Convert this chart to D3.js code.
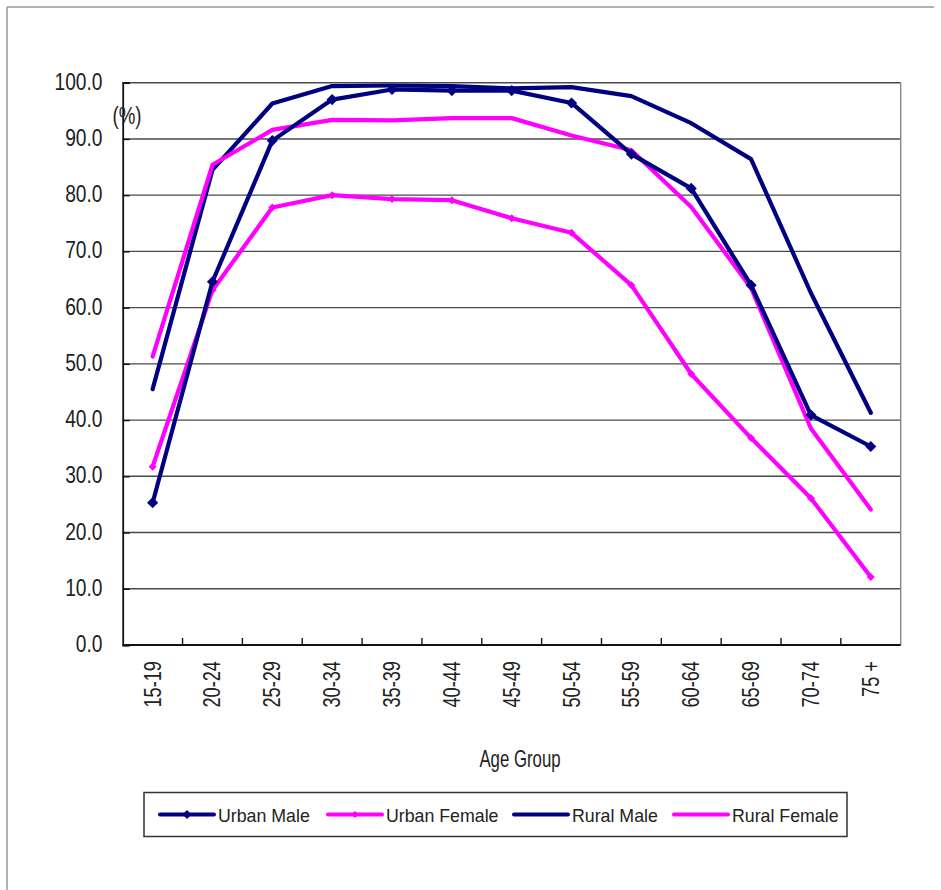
<!DOCTYPE html>
<html><head><meta charset="utf-8">
<script src="https://cdn.jsdelivr.net/npm/d3@7"></script>
<style>html,body{margin:0;padding:0;background:#fff;}svg{display:block;}</style>
</head><body>
<script>
const categories = ["15-19","20-24","25-29","30-34","35-39","40-44","45-49","50-54","55-59","60-64","65-69","70-74","75 +"];
const urbanMale   = [25.3, 64.6, 89.7, 97.0, 98.8, 98.6, 98.6, 96.4, 87.3, 81.2, 64.0, 40.9, 35.3];
const urbanFemale = [31.7, 63.1, 77.8, 80.0, 79.3, 79.1, 75.9, 73.3, 64.0, 48.2, 36.8, 26.1, 12.1];
const ruralMale   = [45.5, 84.5, 96.3, 99.4, 99.5, 99.4, 99.0, 99.2, 97.6, 92.8, 86.4, 62.6, 41.3];
const ruralFemale = [51.3, 85.4, 91.6, 93.4, 93.3, 93.7, 93.7, 90.6, 88.0, 77.9, 63.5, 38.5, 24.1];
const yTicks = [0,10,20,30,40,50,60,70,80,90,100];
const seriesNames = ["Urban Male","Urban Female","Rural Male","Rural Female"];

const W = 941, H = 890;
const svg = d3.select("body").append("svg").attr("width", W).attr("height", H);
const FONT = "'Liberation Sans', Arial, sans-serif";

// outer frame (top and left)
svg.append("line").attr("x1",7).attr("x2",934).attr("y1",7).attr("y2",7).attr("stroke","#999").attr("stroke-width",1.5);
svg.append("line").attr("x1",7).attr("x2",7).attr("y1",7).attr("y2",H).attr("stroke","#999").attr("stroke-width",1.5);

const x = d3.scaleBand().domain(categories).range([122.7, 900.7]).padding(0);
const y = d3.scaleLinear().domain([0,100]).range([645, 82.7]);
const cx = c => x(c) + x.bandwidth()/2;

// gridlines
svg.append("g").selectAll("line").data(yTicks.filter(t=>t>0)).join("line")
  .attr("x1", x.range()[0]).attr("x2", x.range()[1])
  .attr("y1", d=>y(d)).attr("y2", d=>y(d))
  .attr("stroke", "#4a4a4a").attr("stroke-width", 1.4);
// right border
svg.append("line").attr("x1", x.range()[1]).attr("x2", x.range()[1]).attr("y1", y(100)).attr("y2", y(0))
  .attr("stroke","#888").attr("stroke-width",1.4);

// left axis
const yAxis = svg.append("g").attr("transform",`translate(${x.range()[0]},0)`)
  .call(d3.axisLeft(y).tickValues(yTicks).tickSize(-7).tickFormat(""));
yAxis.select(".domain").attr("stroke","#111").attr("stroke-width",1.8);
yAxis.selectAll(".tick line").attr("stroke","#111").attr("stroke-width",1.4);

// bottom axis
svg.append("line").attr("x1", x.range()[0]).attr("x2", x.range()[1]).attr("y1", y(0)).attr("y2", y(0))
  .attr("stroke","#111").attr("stroke-width",1.8);
svg.append("g").selectAll("line").data(categories.slice(1)).join("line")
  .attr("x1", d=>x(d)).attr("x2", d=>x(d)).attr("y1", y(0)).attr("y2", y(0)-7)
  .attr("stroke","#111").attr("stroke-width",1.4);

// y tick labels
svg.append("g").selectAll("text").data(yTicks).join("text")
  .attr("transform", d=>`translate(102.5,${y(d)+7}) scale(0.8,1)`)
  .attr("text-anchor","end").attr("font-family",FONT).attr("font-size",24).attr("fill","#222")
  .text(d=>d.toFixed(1));

// (%)
svg.append("text").attr("transform","translate(127,124) scale(0.78,1)")
  .attr("text-anchor","middle").attr("font-family",FONT).attr("font-size",24).attr("fill","#222").text("(%)");

// x tick labels rotated
svg.append("g").selectAll("text").data(categories).join("text")
  .attr("transform", d=>`translate(${cx(d)+8},661) rotate(-90) scale(0.76,1)`)
  .attr("text-anchor","end").attr("font-family",FONT).attr("font-size",24).attr("fill","#222")
  .text(d=>d);

// axis title
svg.append("text").attr("transform","translate(520,767) scale(0.7,1)")
  .attr("text-anchor","middle").attr("font-family",FONT).attr("font-size",24).attr("fill","#222").text("Age Group");

// series
const series = [
  {name:"Rural Male", values: ruralMale, color:"#000080", marker:0},
  {name:"Rural Female", values: ruralFemale, color:"#FF00FF", marker:0},
  {name:"Urban Female", values: urbanFemale, color:"#FF00FF", marker:32},
  {name:"Urban Male", values: urbanMale, color:"#000080", marker:62}
];
const line = d3.line().x((d,i)=>cx(categories[i])).y(d=>y(d));
series.forEach(s=>{
  svg.append("path").datum(s.values).attr("d", line).attr("fill","none")
    .attr("stroke", s.color).attr("stroke-width", 4.2).attr("stroke-linejoin","round").attr("stroke-linecap","round");
  if (s.marker) {
    svg.append("g").selectAll("path").data(s.values).join("path")
      .attr("d", d3.symbol(d3.symbolSquare, s.marker)())
      .attr("transform",(d,i)=>`translate(${cx(categories[i])},${y(d)}) rotate(45)`)
      .attr("fill", s.color);
  }
});

// legend
const lg = svg.append("g");
lg.append("rect").attr("x",144).attr("y",792.5).attr("width",703).attr("height",44)
  .attr("fill","#fff").attr("stroke","#333").attr("stroke-width",1.5);
const legendItems = [
  {name: seriesNames[0], color:"#000080", marker:40, x0:160},
  {name: seriesNames[1], color:"#FF00FF", marker:24, x0:328},
  {name: seriesNames[2], color:"#000080", marker:0, x0:514},
  {name: seriesNames[3], color:"#FF00FF", marker:0, x0:674}
];
legendItems.forEach(it=>{
  const ly = 814.5;
  lg.append("line").attr("x1",it.x0).attr("x2",it.x0+54).attr("y1",ly).attr("y2",ly)
    .attr("stroke",it.color).attr("stroke-width",4).attr("stroke-linecap","round");
  if (it.marker) lg.append("path").attr("d", d3.symbol(d3.symbolSquare, it.marker)())
    .attr("transform",`translate(${it.x0+27},${ly}) rotate(45)`).attr("fill",it.color);
  lg.append("text").attr("transform",`translate(${it.x0+58},821.5) scale(0.96,1)`)
    .attr("font-family",FONT).attr("font-size",18.5).attr("fill","#222").text(it.name);
});
</script>
</body></html>
